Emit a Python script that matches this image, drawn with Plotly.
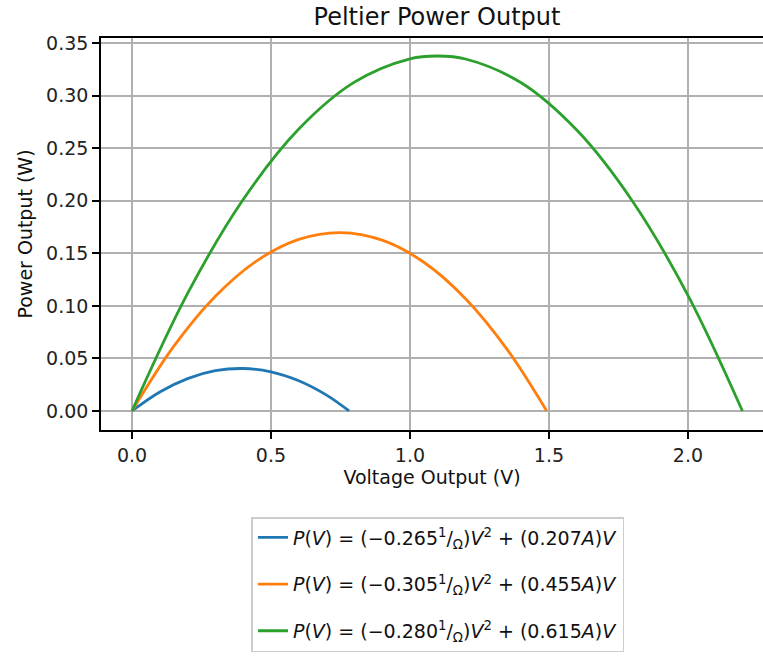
import plotly.graph_objects as go

# Data
blue_v = [0.0, 0.1, 0.2, 0.3, 0.4, 0.5, 0.6, 0.7, 0.781]
blue_p = [0.0, 0.0181, 0.0308, 0.0383, 0.0404, 0.0373, 0.0288, 0.0151, 0.0]

orange_v = [0.0, 0.15, 0.3, 0.45, 0.6, 0.75, 0.9, 1.05, 1.2, 1.35, 1.492]
orange_p = [0.0, 0.0614, 0.1091, 0.1430, 0.1632, 0.1697, 0.1625, 0.1415, 0.1068, 0.0584, 0.0]

green_v = [0.0, 0.2, 0.4, 0.6, 0.8, 1.0, 1.1, 1.2, 1.4, 1.6, 1.8, 2.0, 2.196]
green_p = [0.0, 0.1118, 0.2012, 0.2682, 0.3128, 0.335, 0.3377, 0.3348, 0.3122, 0.2672, 0.1998, 0.11, 0.0]

labels = [
    "<i>P</i>(<i>V</i>) = (−0.265<sup>1</sup>/<sub>Ω</sub>)<i>V</i><sup>2</sup> + (0.207<i>A</i>)<i>V</i>",
    "<i>P</i>(<i>V</i>) = (−0.305<sup>1</sup>/<sub>Ω</sub>)<i>V</i><sup>2</sup> + (0.455<i>A</i>)<i>V</i>",
    "<i>P</i>(<i>V</i>) = (−0.280<sup>1</sup>/<sub>Ω</sub>)<i>V</i><sup>2</sup> + (0.615<i>A</i>)<i>V</i>",
]
colors = ["#1f77b4", "#ff7f0e", "#2ca02c"]

x_ticks = [0.0, 0.5, 1.0, 1.5, 2.0]
y_ticks = [0.0, 0.05, 0.10, 0.15, 0.20, 0.25, 0.30, 0.35]

fig = go.Figure()
for i, (vx, py) in enumerate([(blue_v, blue_p), (orange_v, orange_p), (green_v, green_p)]):
    fig.add_trace(go.Scatter(
        x=vx, y=py, mode="lines", name=labels[i],
        line=dict(color=colors[i], width=2.8, shape="spline"),
        legendgroup=f"g{i}",
    ))

font = "DejaVu Sans, Verdana, sans-serif"
axis_common = dict(
    showgrid=True, gridcolor="#b0b0b0", gridwidth=1.5,
    zeroline=False, showline=True, linecolor="#000000", linewidth=1.6,
    ticks="outside", ticklen=7, tickwidth=1.6, tickcolor="#000000",
    tickfont=dict(family=font, size=19, color="#222222"),
)

fig.update_layout(
    width=763, height=666,
    margin=dict(l=101, r=0, t=38, b=236),
    paper_bgcolor="white", plot_bgcolor="white",
    title=dict(text="Peltier Power Output", x=437 / 763, xanchor="center",
               y=1 - 17 / 666, yanchor="middle",
               font=dict(family=font, size=24, color="#111111")),
    xaxis=dict(range=[-0.1115, 2.27], tickvals=x_ticks, tickformat=".1f",
               mirror=True,
               title=dict(text="Voltage Output (V)", standoff=6,
                          font=dict(family=font, size=19, color="#111111")),
               **axis_common),
    yaxis=dict(range=[-0.0181, 0.3548], tickvals=y_ticks, tickformat=".2f",
               title=dict(text="Power Output (W)", standoff=8,
                          font=dict(family=font, size=19, color="#111111")),
               **axis_common),
    legend=dict(x=0.509, y=-0.222, xanchor="center", yanchor="top",
                bgcolor="white", bordercolor="#cccccc", borderwidth=1.5,
                font=dict(family=font, size=19, color="#111111"),
                tracegroupgap=19),
    showlegend=True,
)

fig.write_html("out.html")
